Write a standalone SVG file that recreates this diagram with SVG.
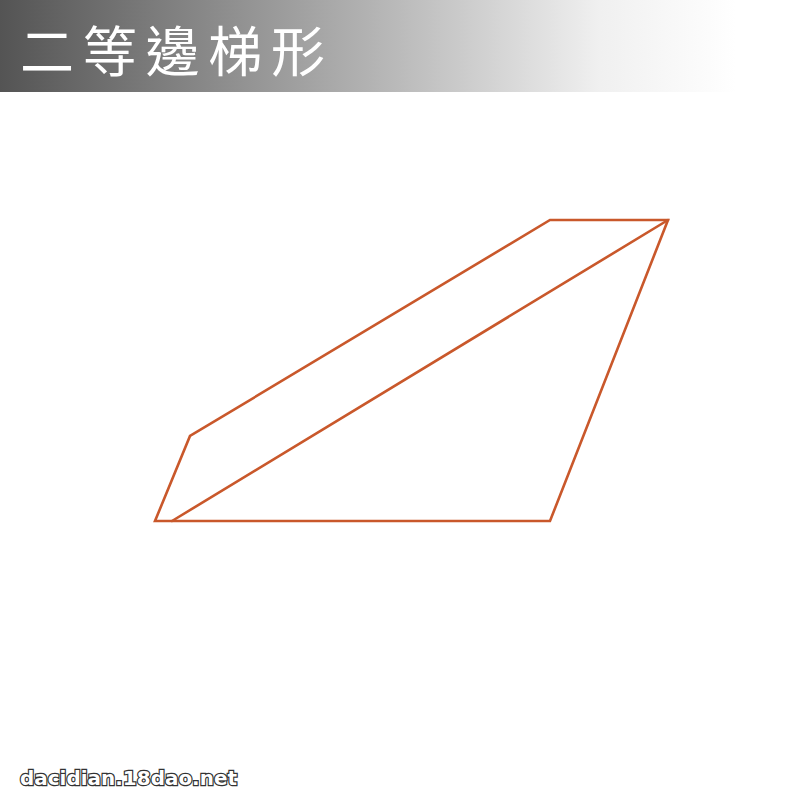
<svg xmlns="http://www.w3.org/2000/svg" width="800" height="800" viewBox="0 0 800 800">
  <defs>
    <linearGradient id="hdr" x1="0" y1="0" x2="1" y2="0">
      <stop offset="0" stop-color="#545454"/>
      <stop offset="0.45" stop-color="#b0b0b0"/>
      <stop offset="0.75" stop-color="#f0f0f0"/>
      <stop offset="0.92" stop-color="#ffffff"/>
    </linearGradient>
    <style>
      .edge { fill: none; stroke: #c9582b; stroke-width: 2.6; stroke-linejoin: miter; stroke-linecap: round; }
      .title { font-family: "Noto Sans CJK TC", "Noto Sans CJK SC", sans-serif; font-size: 54px; fill: #ffffff; }
      .wm { font-family: "DejaVu Sans", "Liberation Sans", sans-serif; font-weight: bold; font-size: 20px; fill: #ffffff; stroke: #333333; stroke-width: 2.4; paint-order: stroke; }
    </style>
  </defs>
  <rect width="800" height="800" fill="#ffffff"/>
  <g id="header">
    <rect x="0" y="0" width="800" height="92" fill="url(#hdr)"/>
    <text class="title" x="20" y="72" textLength="305" lengthAdjust="spacing">二等邊梯形</text>
  </g>
  <g id="trapezoid">
    <polygon class="edge" points="550,220 668,220 550,521 155,521 190,436"/>
  </g>
  <g id="connectors">
    <line class="edge" x1="668" y1="220" x2="172" y2="521"/>
  </g>
  <g id="watermark">
    <text class="wm" x="20" y="785" textLength="217" lengthAdjust="spacingAndGlyphs">dacidian.18dao.net</text>
  </g>
</svg>
